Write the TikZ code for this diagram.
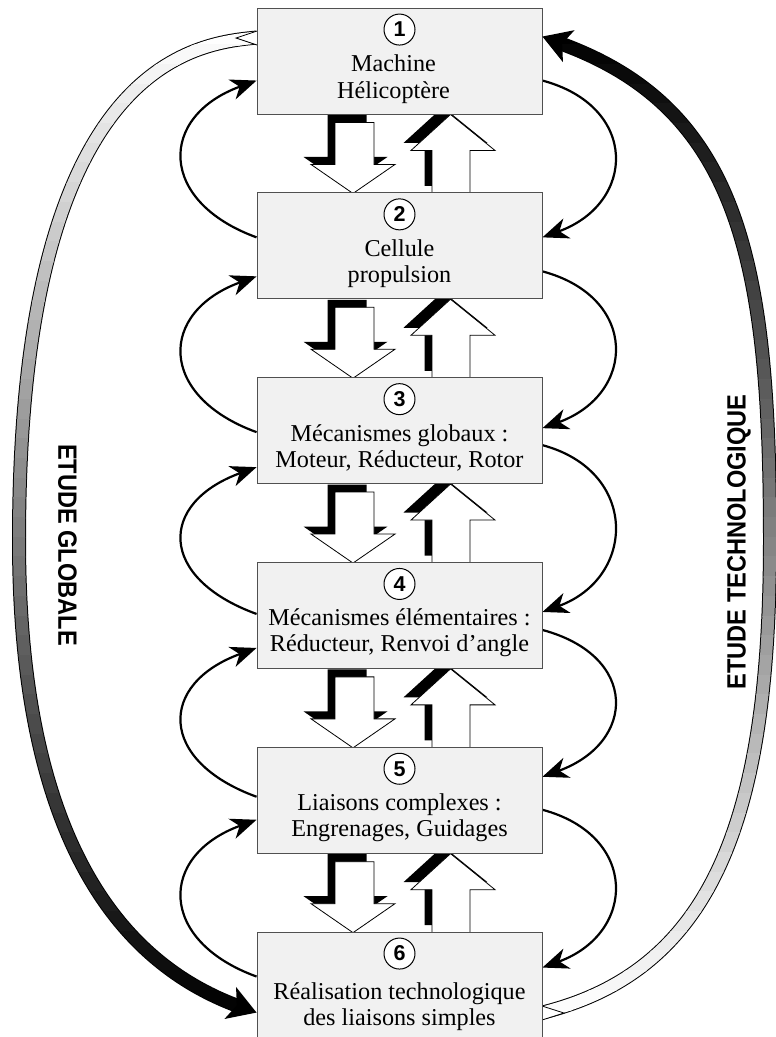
\documentclass[tikz,border=0pt]{standalone}
\usepackage{fontspec}
\usepackage{graphicx}
\setmainfont{Liberation Serif}
\newfontfamily\hsans{Liberation Sans}
\usetikzlibrary{arrows.meta,calc}
\pgfdeclarelayer{bg}
\pgfsetlayers{bg,main}
\begin{document}
\begin{tikzpicture}[x=1pt,y=1pt,
  box/.style={draw={rgb,255:red,80;green,80;blue,80}, line width=0.9pt, fill={rgb,255:red,241;green,241;blue,241}, minimum width=285pt, minimum height=106pt, inner sep=0pt},
  numc/.style={circle, draw, line width=1pt, fill=white, minimum size=31pt, inner sep=0pt, font=\hsans\bfseries\fontsize{21.5}{21.5}\selectfont},
  txt/.style={anchor=base, inner sep=0pt, font=\fontsize{24.2}{26}\selectfont},
  arcarrow/.style={line width=2.2pt, -{Stealth[length=26pt,width=21pt,inset=8pt]}},
  blk/.style={fill=white, draw=black, line width=0.8pt},
  shd/.style={fill=black},
  vlab/.style={font=\hsans\bfseries\fontsize{23.6}{24}\selectfont, inner sep=0pt},
]
\useasboundingbox (0,0) rectangle (776,-1037);

% boxes
\foreach \k in {1,...,6}{
  \node[box] (b\k) at (399.5,{-61-184.8*(\k-1)}) {};
  \node[numc] (n\k) at ([yshift=-22]b\k.north) {\k};
}
\node[txt] (t1a) at ([xshift=-6,yshift=-64]b1.north) {Machine};
\node[txt] (t1b) at ([xshift=-6,yshift=-91]b1.north) {Hélicoptère};
\node[txt] (t2a) at ([yshift=-64]b2.north) {Cellule};
\node[txt] (t2b) at ([yshift=-90]b2.north) {propulsion};
\node[txt] (t3a) at ([yshift=-64]b3.north) {Mécanismes globaux :};
\node[txt] (t3b) at ([yshift=-90]b3.north) {Moteur, Réducteur, Rotor};
\node[txt] (t4a) at ([yshift=-64]b4.north) {Mécanismes élémentaires :};
\node[txt] (t4b) at ([yshift=-90]b4.north) {Réducteur, Renvoi d'angle};
\node[txt] (t5a) at ([yshift=-64]b5.north) {Liaisons complexes :};
\node[txt] (t5b) at ([yshift=-90]b5.north) {Engrenages, Guidages};
\node[txt] (t6a) at ([yshift=-68]b6.north) {Réalisation technologique};
\node[txt] (t6b) at ([yshift=-94]b6.north) {des liaisons simples};

\node[vlab, rotate=-90] (eg) at (67.5,-545) {\scalebox{1}[1.12]{ETUDE GLOBALE}};
\node[vlab, rotate=90] (et) at (739,-542) {\scalebox{1}[1.12]{ETUDE TECHNOLOGIQUE}};

\begin{pgfonlayer}{bg}
% ---- big left arrow (ETUDE GLOBALE)
\def\leftpath{([yshift=-30]b1.north west) .. controls (197,-43.4) and (19,-60) .. (19,-540) .. controls (19,-790) and (89.6,-952.3) .. (240.1,-1006.8)}
\draw[line width=14pt] \leftpath;
\foreach \i in {0,...,51}{
  \pgfmathsetmacro\ya{-25-19.7*\i}
  \pgfmathsetmacro\yb{\ya-20.3}
  \pgfmathsetmacro\pc{min(100,max(0,(-\ya+9.85-30)/983*100))}
  \begin{scope}
    \clip (0,\ya) rectangle (420,\yb);
    \draw[line width=12pt, draw=black!\pc!white] \leftpath;
  \end{scope}
}
\fill[white] (257,-31) -- (236,-38) -- (257,-45) -- cycle;
\draw[line width=0.8pt] (257,-31) -- (236,-38) -- (257,-45);

% ---- big right arrow (ETUDE TECHNOLOGIQUE)
\def\rightpath{([yshift=-81]b6.north east) .. controls (712,-970.5) and (770,-820) .. (770,-540) .. controls (770,-260) and (738.6,-108) .. (559.9,-43.2)}
\draw[line width=14pt] \rightpath;
\foreach \i in {0,...,51}{
  \pgfmathsetmacro\ya{-25-19.7*\i}
  \pgfmathsetmacro\yb{\ya-20.3}
  \pgfmathsetmacro\pc{min(100,max(0,(1013+\ya-9.85)/976*100))}
  \begin{scope}
    \clip (420,\ya) rectangle (800,\yb);
    \draw[line width=12pt, draw=black!\pc!white] \rightpath;
  \end{scope}
}
\fill[white] (542,-1006) -- (564,-1013) -- (542,-1020) -- cycle;
\draw[line width=0.8pt] (542,-1006) -- (564,-1013) -- (542,-1020);

% ---- thin curved arrows
\foreach \k/\li/\lo/\ro/\ri in {1/73/45/73/45, 2/84/55/79/51, 3/90/52/68/50, 4/86/50/68/30, 5/73/45/63/36}{
  \pgfmathtruncatemacro\kk{\k+1}
  \draw[arcarrow] ([yshift=-\lo]b\kk.north west) .. controls +(160:105) and +(200:105) .. ([yshift=-\li]b\k.north west);
  \draw[arcarrow] ([yshift=-\ro]b\k.north east) .. controls +(-15:100) and +(20:100) .. ([yshift=-\ri]b\kk.north east);
}

% ---- block arrows
\def\dpath{(-64.5,-8) -- (-25.5,-8) -- (-25.5,-50) -- (-4.5,-50) -- (-46.5,-79) -- (-88.5,-50) -- (-64.5,-50) -- cycle}
\def\upath{(32.5,-79) -- (32.5,-36) -- (11.5,-36) -- (51,0) -- (95.5,-36) -- (70.5,-36) -- (70.5,-79) -- cycle}
\foreach \k in {1,...,5}{
  \begin{scope}[shift={(b\k.south)}]
    \fill[shd, shift={(-7.5,7.5)}] \dpath;
    \fill[shd, shift={(-7.5,7.5)}] \upath;
    \filldraw[blk] \dpath;
    \filldraw[blk] \upath;
  \end{scope}
}
\end{pgfonlayer}

% ---- big arrow heads
\fill[shift={([yshift=-81]b6.north west)}] (0,0) -- (-20.5,25.6) -- (-19.7,7.2) -- (-32.1,-6.4) -- cycle;
\fill[shift={([yshift=-29]b1.north east)}] (0,0) -- (20.5,-25.6) -- (19.7,-7.2) -- (32.1,6.4) -- cycle;
\end{tikzpicture}
\end{document}
